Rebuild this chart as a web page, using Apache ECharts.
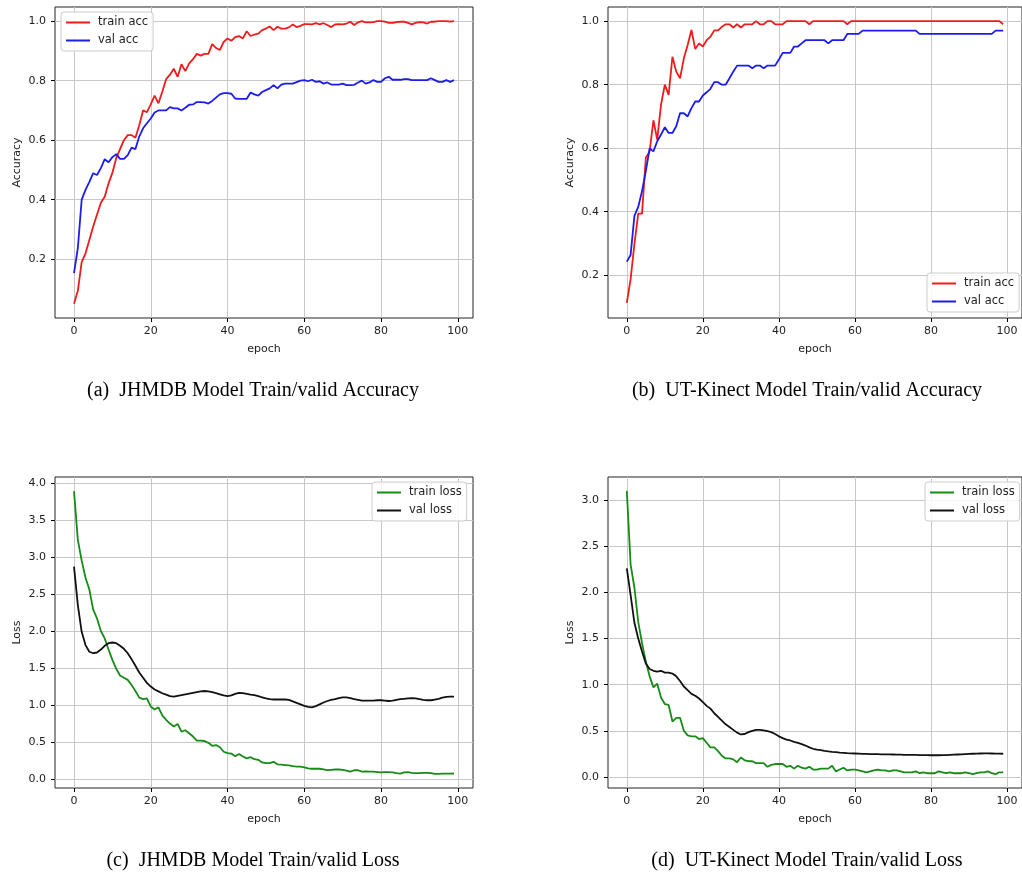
<!DOCTYPE html>
<html>
<head>
<meta charset="utf-8">
<title>Train/valid curves</title>
<script src="https://cdn.jsdelivr.net/npm/echarts@6/dist/echarts.min.js"></script>
<style>
  html, body { margin: 0; padding: 0; background: #fff; }
  #chart { width: 1022px; height: 873px; }
</style>
</head>
<body>
<div id="chart"></div>
<script>
// ---- data (epoch 0..99) ----
const xTicks = [0, 20, 40, 60, 80, 100]
const accTicks = [0.2, 0.4, 0.6, 0.8, 1.0]
const lossTicksC = [0, 0.5, 1.0, 1.5, 2.0, 2.5, 3.0, 3.5, 4.0]
const lossTicksD = [0, 0.5, 1.0, 1.5, 2.0, 2.5, 3.0]

const trainAccA = [0.05, 0.094, 0.19, 0.22, 0.265, 0.31, 0.35, 0.39, 0.41, 0.455,
  0.49, 0.54, 0.57, 0.60, 0.617, 0.617, 0.608, 0.65, 0.70, 0.694,
  0.72, 0.75, 0.724, 0.763, 0.805, 0.82, 0.84, 0.813, 0.855, 0.832,
  0.858, 0.872, 0.89, 0.884, 0.89, 0.89, 0.923, 0.91, 0.903, 0.93,
  0.942, 0.934, 0.946, 0.95, 0.942, 0.966, 0.95, 0.955, 0.958, 0.97,
  0.975, 0.982, 0.97, 0.981, 0.975, 0.975, 0.979, 0.989, 0.98, 0.984,
  0.99, 0.99, 0.989, 0.993, 0.989, 0.993, 0.987, 0.98, 0.989, 0.99,
  0.989, 0.992, 0.998, 0.987, 0.996, 1.0, 0.996, 0.996, 0.997, 1.0,
  1.0, 0.998, 0.994, 0.994, 0.997, 0.998, 0.998, 0.994, 0.989, 0.994,
  0.997, 0.996, 0.992, 0.998, 0.998, 1.0, 1.0, 1.0, 0.998, 1.0]
const valAccA = [0.153, 0.237, 0.40, 0.433, 0.46, 0.489, 0.483, 0.506, 0.536, 0.526,
  0.543, 0.553, 0.537, 0.537, 0.55, 0.575, 0.57, 0.612, 0.64, 0.657,
  0.673, 0.693, 0.70, 0.70, 0.70, 0.711, 0.707, 0.707, 0.70, 0.709,
  0.719, 0.72, 0.728, 0.728, 0.727, 0.723, 0.732, 0.743, 0.754, 0.758,
  0.758, 0.756, 0.74, 0.739, 0.739, 0.739, 0.76, 0.754, 0.75, 0.762,
  0.768, 0.774, 0.785, 0.774, 0.787, 0.79, 0.79, 0.79, 0.795, 0.80,
  0.802, 0.798, 0.803, 0.796, 0.798, 0.79, 0.794, 0.787, 0.787, 0.787,
  0.79, 0.785, 0.785, 0.786, 0.794, 0.80, 0.79, 0.794, 0.802, 0.796,
  0.796, 0.808, 0.813, 0.803, 0.803, 0.803, 0.805, 0.805, 0.802, 0.802,
  0.802, 0.802, 0.802, 0.808, 0.802, 0.796, 0.796, 0.802, 0.796, 0.802]

const trainAccB = [0.113, 0.188, 0.298, 0.394, 0.394, 0.57, 0.59, 0.688, 0.627, 0.737,
  0.80, 0.768, 0.888, 0.841, 0.82, 0.883, 0.925, 0.972, 0.912, 0.93,
  0.92, 0.94, 0.951, 0.971, 0.971, 0.982, 0.99, 0.99, 0.98, 0.99,
  0.98, 0.99, 0.99, 0.99, 1.0, 0.99, 0.99, 1.0, 1.0, 0.99,
  0.99, 0.99, 1.0, 1.0, 1.0, 1.0, 1.0, 1.0, 0.99, 1.0,
  1.0, 1.0, 1.0, 1.0, 1.0, 1.0, 1.0, 1.0, 0.99, 1.0,
  1.0, 1.0, 1.0, 1.0, 1.0, 1.0, 1.0, 1.0, 1.0, 1.0,
  1.0, 1.0, 1.0, 1.0, 1.0, 1.0, 1.0, 1.0, 1.0, 1.0,
  1.0, 1.0, 1.0, 1.0, 1.0, 1.0, 1.0, 1.0, 1.0, 1.0,
  1.0, 1.0, 1.0, 1.0, 1.0, 1.0, 1.0, 1.0, 1.0, 0.99]
const valAccB = [0.243, 0.264, 0.387, 0.415, 0.465, 0.528, 0.599, 0.59, 0.622, 0.643,
  0.666, 0.648, 0.648, 0.669, 0.71, 0.71, 0.70, 0.726, 0.747, 0.747,
  0.766, 0.776, 0.787, 0.808, 0.808, 0.80, 0.80, 0.82, 0.841, 0.86,
  0.86, 0.86, 0.86, 0.852, 0.86, 0.86, 0.852, 0.86, 0.86, 0.86,
  0.879, 0.90, 0.90, 0.90, 0.92, 0.92, 0.93, 0.94, 0.94, 0.94,
  0.94, 0.94, 0.94, 0.93, 0.94, 0.94, 0.94, 0.94, 0.96, 0.96,
  0.96, 0.96, 0.97, 0.97, 0.97, 0.97, 0.97, 0.97, 0.97, 0.97,
  0.97, 0.97, 0.97, 0.97, 0.97, 0.97, 0.97, 0.96, 0.96, 0.96,
  0.96, 0.96, 0.96, 0.96, 0.96, 0.96, 0.96, 0.96, 0.96, 0.96,
  0.96, 0.96, 0.96, 0.96, 0.96, 0.96, 0.96, 0.97, 0.97, 0.97]

const trainLossC = [3.89, 3.23, 2.95, 2.72, 2.56, 2.29, 2.17, 2.0, 1.9, 1.75,
  1.61, 1.49, 1.40, 1.37, 1.34, 1.27, 1.19, 1.10, 1.08, 1.09,
  0.98, 0.94, 0.97, 0.86, 0.80, 0.75, 0.71, 0.745, 0.64, 0.66,
  0.62, 0.575, 0.52, 0.52, 0.515, 0.49, 0.45, 0.46, 0.43, 0.37,
  0.35, 0.345, 0.31, 0.34, 0.305, 0.28, 0.296, 0.27, 0.26, 0.225,
  0.215, 0.215, 0.233, 0.20, 0.195, 0.19, 0.185, 0.175, 0.17, 0.17,
  0.16, 0.145, 0.14, 0.14, 0.14, 0.13, 0.12, 0.125, 0.13, 0.13,
  0.125, 0.115, 0.10, 0.12, 0.12, 0.10, 0.105, 0.10, 0.10, 0.095,
  0.09, 0.095, 0.095, 0.09, 0.08, 0.075, 0.09, 0.095, 0.085, 0.08,
  0.08, 0.085, 0.085, 0.08, 0.07, 0.072, 0.075, 0.075, 0.075, 0.076]
const valLossC = [2.87, 2.35, 1.99, 1.81, 1.72, 1.70, 1.71, 1.75, 1.80, 1.835,
  1.845, 1.835, 1.80, 1.76, 1.70, 1.62, 1.53, 1.44, 1.37, 1.30,
  1.25, 1.21, 1.185, 1.16, 1.14, 1.12, 1.115, 1.125, 1.135, 1.145,
  1.155, 1.165, 1.175, 1.185, 1.19, 1.185, 1.175, 1.16, 1.145, 1.13,
  1.12, 1.13, 1.15, 1.165, 1.16, 1.15, 1.14, 1.135, 1.12, 1.105,
  1.09, 1.08, 1.075, 1.075, 1.075, 1.075, 1.07, 1.05, 1.03, 1.01,
  0.99, 0.975, 0.97, 0.985, 1.01, 1.035, 1.055, 1.07, 1.08, 1.095,
  1.105, 1.105, 1.095, 1.08, 1.07, 1.06, 1.06, 1.06, 1.06, 1.065,
  1.065, 1.06, 1.055, 1.06, 1.07, 1.08, 1.085, 1.09, 1.095, 1.09,
  1.08, 1.07, 1.065, 1.065, 1.075, 1.085, 1.10, 1.11, 1.115, 1.115]

const trainLossD = [3.10, 2.30, 2.05, 1.68, 1.45, 1.25, 1.09, 0.97, 1.01, 0.86,
  0.79, 0.78, 0.60, 0.64, 0.64, 0.50, 0.45, 0.44, 0.44, 0.41,
  0.42, 0.37, 0.32, 0.32, 0.28, 0.23, 0.20, 0.20, 0.19, 0.16,
  0.21, 0.18, 0.17, 0.17, 0.15, 0.15, 0.15, 0.11, 0.13, 0.14,
  0.14, 0.14, 0.11, 0.12, 0.09, 0.12, 0.10, 0.09, 0.11, 0.08,
  0.08, 0.09, 0.09, 0.09, 0.12, 0.06, 0.08, 0.10, 0.07, 0.08,
  0.08, 0.07, 0.06, 0.05, 0.06, 0.07, 0.08, 0.07, 0.07, 0.06,
  0.07, 0.07, 0.06, 0.05, 0.05, 0.05, 0.06, 0.04, 0.05, 0.04,
  0.04, 0.04, 0.06, 0.05, 0.04, 0.05, 0.04, 0.04, 0.04, 0.05,
  0.04, 0.03, 0.04, 0.05, 0.05, 0.06, 0.04, 0.03, 0.05, 0.05]
const valLossD = [2.26, 1.97, 1.67, 1.50, 1.36, 1.23, 1.17, 1.15, 1.14, 1.15,
  1.13, 1.13, 1.12, 1.09, 1.04, 0.98, 0.94, 0.90, 0.88, 0.85,
  0.81, 0.77, 0.74, 0.69, 0.65, 0.61, 0.57, 0.54, 0.51, 0.48,
  0.46, 0.465, 0.485, 0.50, 0.51, 0.51, 0.505, 0.495, 0.485, 0.465,
  0.44, 0.42, 0.405, 0.395, 0.38, 0.37, 0.355, 0.34, 0.32, 0.305,
  0.295, 0.29, 0.283, 0.277, 0.272, 0.268, 0.264, 0.261, 0.258, 0.256,
  0.254, 0.252, 0.25, 0.249, 0.248, 0.247, 0.246, 0.245, 0.244, 0.244,
  0.243, 0.242, 0.241, 0.24, 0.24, 0.239, 0.238, 0.237, 0.237, 0.236,
  0.235, 0.235, 0.235, 0.236, 0.237, 0.239, 0.241, 0.243, 0.245, 0.247,
  0.249, 0.251, 0.253, 0.254, 0.255, 0.255, 0.254, 0.253, 0.252, 0.251]

const captions = [
  '(a)  JHMDB Model Train/valid Accuracy',
  '(b)  UT-Kinect Model Train/valid Accuracy',
  '(c)  JHMDB Model Train/valid Loss',
  '(d)  UT-Kinect Model Train/valid Loss'
]

// ---- helpers ----
const FONT = 'DejaVu Sans'
const pairs = arr => arr.map((v, i) => [i, v])

function xAxisFor(i) {
  return {
    gridIndex: i, type: 'value', min: -4.95, max: 103.95,
    axisLine: { show: false, onZero: false },
    axisTick: { show: true, length: 4, customValues: xTicks, lineStyle: { color: '#000' } },
    axisLabel: { customValues: xTicks, color: '#222', fontSize: 11, fontFamily: FONT, margin: 8 },
    splitLine: { show: true, lineStyle: { color: '#c8c8c8', width: 1 } },
    name: 'epoch', nameLocation: 'middle', nameGap: 26,
    nameTextStyle: { color: '#222', fontSize: 11, fontFamily: FONT }
  }
}

function yAxisFor(i, min, max, ticks, name) {
  return {
    gridIndex: i, type: 'value', min: min, max: max,
    axisLine: { show: false, onZero: false },
    axisTick: { show: true, length: 4, customValues: ticks, lineStyle: { color: '#000' } },
    axisLabel: {
      customValues: ticks, color: '#222', fontSize: 11, fontFamily: FONT, margin: 9,
      formatter: v => v.toFixed(1)
    },
    splitLine: { show: true, lineStyle: { color: '#c8c8c8', width: 1 } },
    name: name, nameLocation: 'middle', nameGap: 32, nameRotate: 90,
    nameTextStyle: { color: '#222', fontSize: 11, fontFamily: FONT }
  }
}

function line(name, data, i, color) {
  return {
    name: name, type: 'line', xAxisIndex: i, yAxisIndex: i,
    data: pairs(data), symbol: 'none', smooth: false,
    lineStyle: { color: color, width: 1.8 }, itemStyle: { color: color },
    animation: false
  }
}

function legendFor(names, left, top) {
  return {
    data: names, orient: 'vertical', left: left, top: top,
    icon: 'rect', itemWidth: 24, itemHeight: 2, itemGap: 5,
    padding: [4, 5, 4, 5],
    backgroundColor: 'rgba(255,255,255,0.85)',
    borderColor: '#cccccc', borderWidth: 1, borderRadius: 3,
    textStyle: { color: '#222', fontSize: 11.5, fontFamily: FONT, padding: [0, 0, 0, 3], lineHeight: 13 },
    selectedMode: false
  }
}

const RED = '#ee1c1c', BLUE = '#1c1cee', GREEN = '#178a17', BLACK = '#111'

const chart = echarts.init(document.getElementById('chart'), null, { renderer: 'canvas' })

chart.setOption({
  backgroundColor: '#fff',
  animation: false,
  grid: [
    { left: 55, top: 7, width: 418, height: 311 },
    { left: 608, top: 7, width: 418, height: 311 },
    { left: 55, top: 477, width: 418, height: 311 },
    { left: 608, top: 477, width: 418, height: 311 }
  ].map(g => Object.assign(g, { show: true, borderColor: '#222', borderWidth: 1, backgroundColor: 'transparent' })),
  xAxis: [0, 1, 2, 3].map(xAxisFor),
  yAxis: [
    yAxisFor(0, 0.0025, 1.0475, accTicks, 'Accuracy'),
    yAxisFor(1, 0.0655, 1.0445, accTicks, 'Accuracy'),
    yAxisFor(2, -0.12, 4.08, lossTicksC, 'Loss'),
    yAxisFor(3, -0.12, 3.25, lossTicksD, 'Loss')
  ],
  legend: [
    legendFor(['train acc', 'val acc'], 61, 12),
    legendFor(['train acc', 'val acc'], 927, 273),
    legendFor(['train loss', 'val loss'], 372, 482),
    legendFor(['train loss', 'val loss'], 925, 482)
  ],
  series: [
    line('train acc', trainAccA, 0, RED),
    line('val acc', valAccA, 0, BLUE),
    line('train acc', trainAccB, 1, RED),
    line('val acc', valAccB, 1, BLUE),
    line('train loss', trainLossC, 2, GREEN),
    line('val loss', valLossC, 2, BLACK),
    line('train loss', trainLossD, 3, GREEN),
    line('val loss', valLossD, 3, BLACK)
  ],
  graphic: captions.map((t, i) => ({
    type: 'text',
    x: i % 2 === 0 ? 253 : 807,
    y: i < 2 ? 391 : 861,
    style: {
      text: t, textAlign: 'center', textVerticalAlign: 'middle',
      font: '20px "Liberation Serif", "Times New Roman", serif', fill: '#000'
    }
  }))
})

window.addEventListener('resize', function() {
  chart.resize()
})
</script>
</body>
</html>
